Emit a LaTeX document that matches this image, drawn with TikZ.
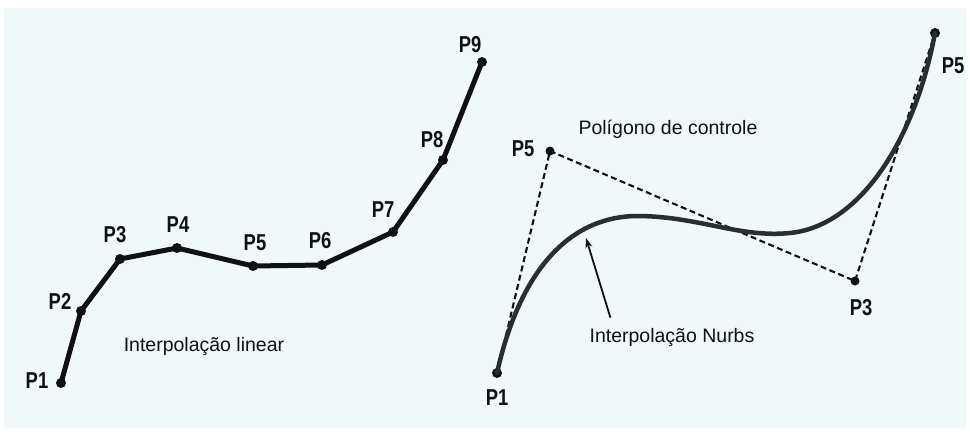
\documentclass[tikz,border=0pt]{standalone}
\usepackage{fontspec}
\setmainfont{Liberation Sans}
\newfontfamily\narrowfont{Liberation Sans}[FakeStretch=0.8]
\usetikzlibrary{arrows.meta}
\definecolor{bgtint}{HTML}{F0F8F9}
\definecolor{ink}{HTML}{111111}
\definecolor{curveink}{HTML}{2A2E33}
\tikzset{
  plabel/.style={font=\narrowfont\fontsize{23}{25}\selectfont\bfseries, text=ink, inner sep=0pt},
  caption/.style={font=\fontsize{19.5}{22}\selectfont, text=ink, inner sep=0pt},
  polyline/.style={line width=5pt, draw=ink, line join=round, line cap=round},
  dot/.style={circle, fill=ink, inner sep=0pt, minimum size=10pt},
  ctrldot/.style={circle, fill=ink, inner sep=0pt, minimum size=9pt},
  ctrl/.style={line width=2.1pt, draw=ink, dash pattern=on 6pt off 3.5pt},
  nurbs/.style={line width=4.5pt, draw=curveink, line cap=round},
  pointer/.style={line width=1.8pt, draw=ink, -{Stealth[length=10pt,width=7pt]}}
}
\begin{document}
\begin{tikzpicture}[x=1pt,y=-1pt]
\useasboundingbox (0,0) rectangle (970,432);
\fill[white] (0,0) rectangle (970,432);
\fill[bgtint] (4,8) rectangle (966,428);

% ---- left: linear interpolation ----
\node[dot] (a1) at (61,383) {};
\node[dot] (a2) at (81,311) {};
\node[dot] (a3) at (120,259) {};
\node[dot] (a4) at (177,248) {};
\node[dot] (a5) at (253,266) {};
\node[dot] (a6) at (322,265) {};
\node[dot] (a7) at (393,232) {};
\node[dot] (a8) at (443,160) {};
\node[dot] (a9) at (482,62) {};
\draw[polyline] (a1.center) -- (a2.center) -- (a3.center) -- (a4.center) -- (a5.center)
  -- (a6.center) -- (a7.center) -- (a8.center) -- (a9.center);

\node[plabel] (la1) at (37,381) {P1};
\node[plabel] (la2) at (60,301) {P2};
\node[plabel] (la3) at (115,235) {P3};
\node[plabel] (la4) at (178,225) {P4};
\node[plabel] (la5) at (255,243) {P5};
\node[plabel] (la6) at (320,241) {P6};
\node[plabel] (la7) at (383,210) {P7};
\node[plabel] (la8) at (432,140) {P8};
\node[plabel] (la9) at (470,45) {P9};
\node[caption] (lin) at (204,346) {Interpolação linear};

% ---- right: NURBS ----
\node[dot] (b1) at (497,373) {};
\node[ctrldot] (b5) at (550,151) {};
\node[ctrldot] (b3) at (855,281) {};
\node[dot] (b9) at (935,33) {};

\draw[ctrl] (b1.center) -- (b5.center) -- (b3.center) -- (b9.center);

\draw[nurbs] (b1.center) .. controls (520,270) and (570,215) .. (640,216)
  .. controls (700,217) and (740,238) .. (790,233)
  .. controls (860,226) and (915,140) .. (b9.center);

\node[plabel] (lb1) at (497,398) {P1};
\node[plabel] (lb5) at (523,149) {P5};
\node[plabel] (lb3) at (861,308) {P3};
\node[plabel] (lb9) at (953,66) {P5};

\node[caption] (poly) at (668,129) {Polígono de controle};
\node[caption] (nurbslbl) at (672,337) {Interpolação Nurbs};
\coordinate (tip) at (586,238);
\draw[pointer] (nurbslbl.north west) ++(21,-10) -- (tip);
\end{tikzpicture}
\end{document}
